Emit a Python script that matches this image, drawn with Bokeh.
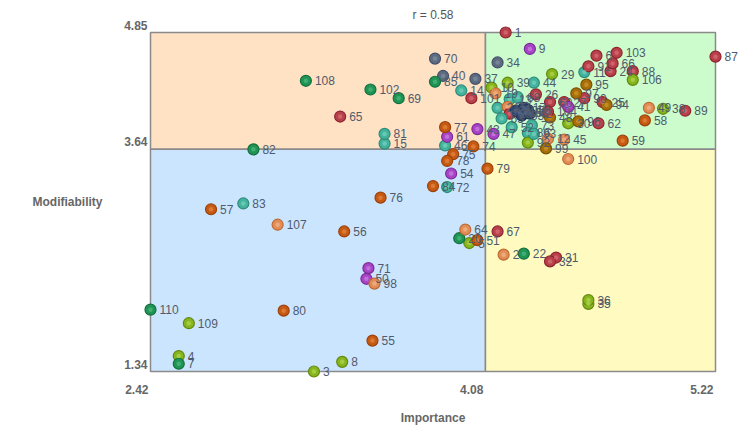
from bokeh.plotting import figure
from bokeh.models import ColumnDataSource, Range1d
from bokeh.core.properties import value
from bokeh.embed import file_html
from bokeh.resources import INLINE

# Quadrant breaks (tick values) on each axis
x_ticks = [2.42, 4.08, 5.22]
y_ticks = [1.34, 3.64, 4.85]
x_tick_labels = ["2.42", "4.08", "5.22"]
y_tick_labels = ["1.34", "3.64", "4.85"]
title_text = "r = 0.58"
x_title = "Importance"
y_title = "Modifiability"

# Items: id, importance, modifiability, colour group
point_ids = [
    1, 2, 3, 4, 5, 6, 7, 8, 9, 10,
    11, 12, 13, 14, 15, 16, 17, 18, 19, 20,
    21, 22, 23, 24, 25, 26, 27, 28, 29, 30,
    31, 32, 33, 34, 35, 36, 37, 38, 39, 40,
    41, 42, 43, 44, 45, 46, 47, 48, 49, 50,
    51, 52, 53, 54, 55, 56, 57, 58, 59, 60,
    61, 62, 63, 64, 65, 66, 67, 68, 69, 70,
    71, 72, 73, 74, 75, 76, 77, 78, 79, 80,
    81, 82, 83, 84, 85, 86, 87, 88, 89, 90,
    91, 92, 93, 94, 95, 96, 97, 98, 99, 100,
    101, 102, 103, 104, 105, 106, 107, 108, 109, 110,
]
importance = [
    4.18, 4.17, 3.23, 2.56, 4.00, 4.63, 2.56, 3.37, 4.30, 4.11,
    4.57, 4.39, 4.20, 3.96, 3.58, 4.25, 4.27, 4.29, 4.13, 3.95,
    4.14, 4.27, 4.19, 4.70, 4.66, 4.33, 4.47, 4.20, 4.41, 4.49,
    4.43, 4.40, 4.26, 4.14, 4.59, 4.59, 4.03, 4.96, 4.19, 3.87,
    4.49, 4.30, 4.04, 4.32, 4.47, 3.88, 4.12, 4.40, 4.89, 3.49,
    4.04, 4.21, 4.28, 3.91, 3.52, 3.38, 2.72, 4.87, 4.76, 4.40,
    3.89, 4.64, 4.16, 3.98, 3.36, 4.71, 4.14, 4.24, 3.65, 3.83,
    3.50, 3.89, 4.31, 4.02, 3.92, 3.56, 3.88, 3.89, 4.09, 3.08,
    3.58, 2.93, 2.88, 3.82, 3.83, 4.29, 5.22, 4.81, 5.07, 4.57,
    4.59, 4.29, 4.32, 4.68, 4.58, 4.54, 4.53, 3.53, 4.38, 4.49,
    4.01, 3.51, 4.73, 4.39, 4.23, 4.81, 3.05, 3.19, 2.61, 2.42,
]
modifiability = [
    4.85, 2.55, 1.34, 1.50, 2.67, 4.61, 1.42, 1.44, 4.68, 4.28,
    4.44, 3.75, 4.16, 4.25, 3.70, 4.02, 4.07, 4.05, 4.22, 2.72,
    4.07, 2.56, 4.08, 4.45, 4.13, 4.21, 4.13, 4.01, 4.42, 3.91,
    2.52, 2.48, 3.99, 4.54, 2.04, 2.08, 4.37, 4.06, 4.33, 4.40,
    4.08, 4.01, 3.85, 4.33, 3.74, 3.68, 3.80, 3.97, 4.07, 2.30,
    2.70, 3.87, 4.02, 3.39, 1.66, 2.79, 3.02, 3.94, 3.73, 4.13,
    3.77, 3.91, 3.96, 2.81, 3.98, 4.53, 2.79, 4.18, 4.17, 4.58,
    2.41, 3.25, 3.89, 3.67, 3.59, 3.14, 3.87, 3.52, 3.44, 1.97,
    3.80, 3.64, 3.08, 3.26, 4.34, 3.81, 4.60, 4.45, 4.04, 4.17,
    4.50, 3.71, 3.80, 4.10, 4.31, 3.93, 4.22, 2.25, 3.65, 3.54,
    4.17, 4.26, 4.64, 4.03, 4.04, 4.36, 2.86, 4.35, 1.84, 1.98,
]
groups = [
    "red", "peach", "olive", "olive", "olive", "red", "green", "olive", "purple", "olive",
    "teal", "peach", "teal", "teal", "teal", "navy", "navy", "navy", "peach", "green",
    "teal", "green", "peach", "red", "red", "red", "red", "red", "olive", "olive",
    "red", "red", "navy", "slate", "olive", "olive", "slate", "olive", "olive", "slate",
    "purple", "navy", "purple", "teal", "peach", "teal", "purple", "amber", "peach", "purple",
    "rust", "teal", "navy", "purple", "rust", "rust", "rust", "rust", "rust", "red",
    "purple", "red", "teal", "peach", "red", "red", "red", "teal", "green", "slate",
    "purple", "teal", "teal", "rust", "rust", "rust", "rust", "rust", "rust", "rust",
    "teal", "green", "teal", "rust", "green", "teal", "red", "red", "red", "red",
    "red", "olive", "teal", "amber", "amber", "amber", "amber", "peach", "amber", "peach",
    "red", "green", "red", "red", "navy", "olive", "peach", "green", "olive", "green",
]

palette = {
    "red": ("#b8404a", "#8e2430", "#e27d86"),
    "purple": ("#a745c6", "#7c2a98", "#d891ec"),
    "slate": ("#5d6b80", "#44506a", "#8c99ab"),
    "navy": ("#34476e", "#22325a", "#6a7ca0"),
    "teal": ("#43b39d", "#2d8c7a", "#8adbc9"),
    "green": ("#1f9455", "#12703d", "#5cc48a"),
    "olive": ("#86b51e", "#64890f", "#c0e060"),
    "rust": ("#c65a12", "#9c420a", "#ee9552"),
    "peach": ("#e28d56", "#bf6a35", "#f6c29a"),
    "amber": ("#a86f08", "#7e5204", "#d9a23c"),
}

W, H = 744, 429
# Pixel margins around the quadrant block
ml, mr, mt, mb = 150, 29, 32, 58
xpp = (x_ticks[-1] - x_ticks[0]) / (W - ml - mr)
ypp = (y_ticks[-1] - y_ticks[0]) / (H - mt - mb)
x_range = Range1d(x_ticks[0] - ml * xpp, x_ticks[-1] + mr * xpp)
y_range = Range1d(y_ticks[0] - mb * ypp, y_ticks[-1] + mt * ypp)

p = figure(width=W, height=H, x_range=x_range, y_range=y_range,
           x_axis_type=None, y_axis_type=None, min_border=0,
           toolbar_location=None, output_backend="svg")
p.grid.visible = False
p.outline_line_color = None
p.background_fill_color = "white"
p.border_fill_color = "white"

FONT = value("Liberation Sans")

# Quadrant backgrounds
quad_src = ColumnDataSource(dict(
    left=[x_ticks[0], x_ticks[1], x_ticks[0], x_ticks[1]],
    right=[x_ticks[1], x_ticks[2], x_ticks[1], x_ticks[2]],
    bottom=[y_ticks[1], y_ticks[1], y_ticks[0], y_ticks[0]],
    top=[y_ticks[2], y_ticks[2], y_ticks[1], y_ticks[1]],
    color=["#ffe1c4", "#ccfccb", "#cce5ff", "#fffbc0"],
))
p.quad(left="left", right="right", bottom="bottom", top="top", source=quad_src,
       fill_color="color", line_color="#8a8a8a", line_width=1.5)

# Points
src = ColumnDataSource(dict(
    x=importance, y=modifiability, label=[str(i) for i in point_ids],
    fill=[palette[g][0] for g in groups],
    edge=[palette[g][1] for g in groups],
    glow=[palette[g][2] for g in groups],
))
p.scatter("x", "y", source=src, size=11, fill_color="fill", line_color="edge",
          line_width=1.2)
p.scatter("x", "y", source=src, size=4.5, fill_color="glow", line_color=None,
          fill_alpha=0.55)
p.text("x", "y", text="label", source=src, x_offset=9, text_baseline="middle",
       text_align="left", text_font=FONT, text_font_size="12px", text_color="#4f5b6c")

# Tick labels
p.text(x=[x_ticks[0]] * 3, y=y_ticks, text=y_tick_labels, x_offset=-3, y_offset=-3,
       text_align="right", text_baseline="bottom", text_font=FONT,
       text_font_size="12px", text_font_style="bold", text_color="#666666")
p.text(x=x_ticks, y=[y_ticks[0]] * 3, text=x_tick_labels, x_offset=-2, y_offset=18,
       text_align="right", text_baseline="middle", text_font=FONT,
       text_font_size="12px", text_font_style="bold", text_color="#666666")

# Title and axis titles
xmid = (x_ticks[0] + x_ticks[-1]) / 2
ymid = (y_ticks[0] + y_ticks[-1]) / 2
p.text(x=[xmid], y=[y_ticks[-1]], text=[title_text], y_offset=-18,
       text_align="center", text_baseline="middle", text_font=FONT,
       text_font_size="12px", text_color="#555555")
p.text(x=[xmid], y=[y_ticks[0]], text=[x_title], y_offset=46,
       text_align="center", text_baseline="middle", text_font=FONT,
       text_font_size="12px", text_font_style="bold", text_color="#666666")
p.text(x=[x_ticks[0]], y=[ymid], text=[y_title], x_offset=-83,
       text_align="center", text_baseline="middle", text_font=FONT,
       text_font_size="12px", text_font_style="bold", text_color="#666666")

open("out.html", "w").write(file_html(p, INLINE))
